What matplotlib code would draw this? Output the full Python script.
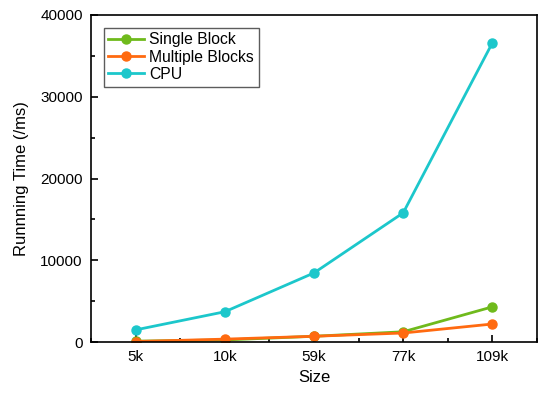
import matplotlib
matplotlib.use('Agg')
import matplotlib.pyplot as plt
from matplotlib.ticker import MultipleLocator

plt.rcParams['font.family'] = ['Liberation Sans', 'DejaVu Sans']

sizes = ['5k', '10k', '59k', '77k', '109k']
single_block = [100, 250, 700, 1250, 4300]
multiple_blocks = [60, 350, 700, 1100, 2200]
cpu = [1480, 3700, 8450, 15800, 36600]

x = list(range(len(sizes)))

fig = plt.figure(figsize=(5.5, 3.94), dpi=100)
ax = fig.add_axes([91 / 550, 1 - 342 / 394, 446 / 550, 327 / 394])

ax.plot(x, single_block, color='#6fba1c', marker='o', markersize=6.5, linewidth=2, label='Single Block')
ax.plot(x, multiple_blocks, color='#ff6a10', marker='o', markersize=6.5, linewidth=2, label='Multiple Blocks')
ax.plot(x, cpu, color='#1cc7cb', marker='o', markersize=6.5, linewidth=2, label='CPU')

ax.set_xlim(-0.5, 4.5)
ax.set_ylim(0, 40000)
ax.set_xticks(x)
ax.set_xticklabels(sizes)
ax.xaxis.set_minor_locator(MultipleLocator(0.5))
ax.yaxis.set_major_locator(MultipleLocator(10000))
ax.yaxis.set_minor_locator(MultipleLocator(5000))
ax.tick_params(which='both', direction='in', labelsize=11, width=1.2)
ax.tick_params(which='major', length=5)
ax.tick_params(which='minor', length=3)
ax.tick_params(axis='both', pad=6)
for s in ax.spines.values():
    s.set_linewidth(1.2)

ax.set_xlabel('Size', fontsize=12)
ax.set_ylabel('Runnning Time (/ms)', fontsize=12, labelpad=8)

leg = ax.legend(loc='upper left', fontsize=11.3, frameon=True, fancybox=False,
                edgecolor='#333333', handlelength=2.3, borderpad=0.3,
                labelspacing=0.15, handletextpad=0.3, borderaxespad=0.8)
leg.get_frame().set_linewidth(1.0)

fig.savefig('out.png', dpi=100)
